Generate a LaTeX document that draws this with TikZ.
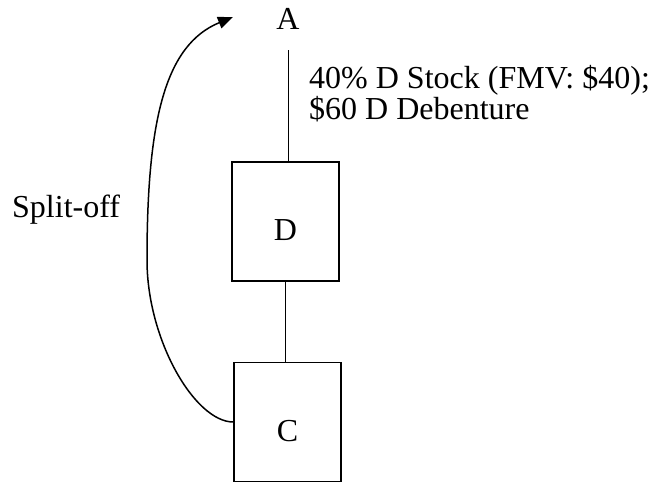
\documentclass[tikz,border=0pt]{standalone}
\usepackage{fontspec}
\setmainfont{Liberation Serif}
\usetikzlibrary{arrows.meta}
\begin{document}
\begin{tikzpicture}[x=1pt,y=-1pt,font=\fontsize{32}{31}\selectfont,
  box/.style={draw,line width=1.3pt,minimum width=107pt,minimum height=119pt,inner sep=0pt},
  conn/.style={line width=1pt},
  split/.style={line width=1.5pt,-{Triangle[length=15pt,width=12pt]}},
  lbl/.style={inner sep=0pt,anchor=base west}]
\useasboundingbox (0,0) rectangle (654,483);
\node[inner sep=0pt,anchor=base] (A) at (288,29) {A};
\node[box] (D) at (285.5,221.5) {\raisebox{-19pt}[0pt][0pt]{D}};
\node[box] (C) at (287.5,422) {\raisebox{-19pt}[0pt][0pt]{C}};
\node[lbl] (T1) at (309,88) {40\% D Stock (FMV: \$40);};
\node[lbl] (T2) at (309,119) {\$60 D Debenture};
\node[lbl] (S) at (12,217) {Split-off};
\coordinate (bend) at (147,260);
\coordinate (tip) at (233,17);
\draw[conn] ([yshift=-21pt]A.south) -- (A.south |- D.north);
\draw[conn] (D.south) -- (D.south |- C.north);
\draw[split] (C.west) .. controls (195,422) and (147,340) .. (bend)
  .. controls (147,120) and (165,45) .. (tip);
\end{tikzpicture}
\end{document}
